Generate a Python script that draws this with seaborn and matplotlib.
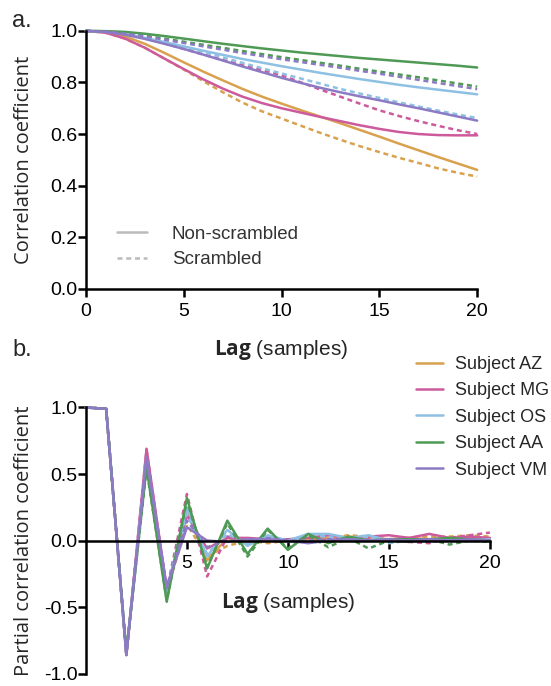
import numpy as np
import pandas as pd
import seaborn as sns
import matplotlib.pyplot as plt
from matplotlib.lines import Line2D

sns.set_style('ticks')
plt.rcParams['font.family'] = ['Liberation Sans', 'DejaVu Sans']
plt.rcParams['axes.unicode_minus'] = False
plt.rcParams['mathtext.fontset'] = 'custom'
plt.rcParams['mathtext.rm'] = 'Open Sans'
plt.rcParams['mathtext.bf'] = 'Open Sans:bold'

lags = list(range(21))
subjects = ['Subject AZ', 'Subject MG', 'Subject OS', 'Subject AA', 'Subject VM']
colors = ['#D9A14E', '#CC5A9C', '#8EC0E4', '#4E9A55', '#8C7BC4']
kinds = ['Non-scrambled', 'Scrambled']

# panel a: autocorrelation (solid = non-scrambled, dashed = scrambled)
acf_az = [1.0, 0.995, 0.978, 0.950, 0.915, 0.878, 0.842, 0.808, 0.775, 0.745, 0.718,
          0.692, 0.667, 0.642, 0.616, 0.590, 0.563, 0.537, 0.511, 0.486, 0.461]
acf_az_s = [1.0, 0.993, 0.970, 0.935, 0.893, 0.850, 0.805, 0.762, 0.722, 0.688, 0.660,
            0.632, 0.604, 0.578, 0.553, 0.530, 0.508, 0.488, 0.467, 0.450, 0.435]
acf_mg = [1.0, 0.993, 0.970, 0.935, 0.893, 0.852, 0.812, 0.776, 0.745, 0.720, 0.700,
          0.683, 0.666, 0.650, 0.634, 0.620, 0.608, 0.600, 0.596, 0.595, 0.595]
acf_mg_s = [1.0, 0.996, 0.988, 0.972, 0.952, 0.930, 0.908, 0.887, 0.867, 0.848, 0.828,
            0.800, 0.772, 0.745, 0.718, 0.692, 0.670, 0.650, 0.632, 0.615, 0.600]
acf_os = [1.0, 0.997, 0.988, 0.973, 0.957, 0.940, 0.923, 0.907, 0.891, 0.877, 0.863,
          0.850, 0.837, 0.825, 0.813, 0.802, 0.791, 0.781, 0.772, 0.763, 0.754]
acf_os_s = [1.0, 0.997, 0.988, 0.974, 0.957, 0.938, 0.918, 0.897, 0.876, 0.855, 0.835,
            0.815, 0.795, 0.775, 0.757, 0.740, 0.723, 0.707, 0.691, 0.676, 0.662]
acf_aa = [1.0, 0.999, 0.996, 0.989, 0.980, 0.970, 0.960, 0.950, 0.941, 0.932, 0.924,
          0.916, 0.909, 0.902, 0.895, 0.889, 0.883, 0.877, 0.871, 0.865, 0.858]
acf_aa_s = [1.0, 0.998, 0.992, 0.982, 0.970, 0.958, 0.946, 0.934, 0.922, 0.910, 0.898,
            0.887, 0.876, 0.865, 0.853, 0.842, 0.831, 0.820, 0.808, 0.796, 0.784]
acf_vm = [1.0, 0.996, 0.985, 0.969, 0.950, 0.930, 0.908, 0.885, 0.862, 0.840, 0.818,
          0.798, 0.779, 0.762, 0.746, 0.731, 0.715, 0.700, 0.684, 0.668, 0.652]
acf_vm_s = [1.0, 0.997, 0.990, 0.979, 0.966, 0.953, 0.940, 0.927, 0.914, 0.902, 0.890,
            0.879, 0.868, 0.857, 0.845, 0.834, 0.822, 0.810, 0.798, 0.786, 0.774]

# panel b: partial autocorrelation
pacf_az = [1.0, 0.99, -0.85, 0.62, -0.38, 0.22, -0.15, 0.02, -0.02, 0.0, 0.01,
           0.01, 0.02, 0.03, 0.02, 0.01, 0.02, 0.01, 0.02, 0.02, 0.01]
pacf_az_s = [1.0, 0.99, -0.85, 0.60, -0.38, 0.12, -0.12, -0.04, 0.0, -0.02, 0.0,
             0.01, 0.02, 0.04, 0.03, 0.01, 0.02, 0.03, 0.03, 0.04, 0.03]
pacf_mg = [1.0, 0.99, -0.86, 0.69, -0.36, 0.19, -0.06, 0.02, 0.02, 0.01, 0.01,
           0.02, 0.04, 0.02, 0.03, 0.04, 0.02, 0.05, 0.02, 0.03, 0.02]
pacf_mg_s = [1.0, 0.99, -0.86, 0.68, -0.37, 0.35, -0.27, 0.03, 0.01, 0.0, 0.01,
             -0.01, 0.01, 0.02, 0.01, 0.0, -0.01, -0.02, 0.02, 0.04, 0.06]
pacf_os = [1.0, 0.99, -0.85, 0.62, -0.38, 0.25, -0.12, 0.08, -0.04, 0.04, 0.0,
           0.05, 0.05, 0.02, 0.04, 0.0, 0.01, 0.0, 0.01, 0.0, 0.01]
pacf_os_s = [1.0, 0.99, -0.85, 0.60, -0.40, 0.20, -0.10, 0.05, -0.03, 0.03, -0.01,
             0.04, 0.03, 0.0, 0.03, -0.02, 0.0, 0.01, 0.0, 0.01, 0.0]
pacf_aa = [1.0, 0.99, -0.84, 0.55, -0.46, 0.32, -0.21, 0.15, -0.10, 0.09, -0.07,
           0.05, -0.02, 0.03, 0.0, 0.01, 0.01, 0.01, 0.02, 0.01, 0.0]
pacf_aa_s = [1.0, 0.99, -0.84, 0.54, -0.45, 0.30, -0.20, 0.13, -0.12, 0.08, -0.06,
             0.04, -0.05, 0.02, -0.06, 0.0, -0.01, 0.01, -0.03, 0.0, -0.01]
pacf_vm = [1.0, 0.99, -0.86, 0.63, -0.35, 0.10, 0.0, -0.01, 0.01, 0.01, 0.0,
           -0.02, 0.0, 0.01, 0.0, 0.01, 0.0, 0.01, 0.0, 0.01, 0.0]
pacf_vm_s = [1.0, 0.99, -0.86, 0.62, -0.36, 0.15, -0.05, 0.0, 0.0, 0.02, 0.0,
             0.0, 0.01, 0.01, 0.0, 0.0, 0.0, 0.01, 0.0, 0.0, 0.0]

acf = {'Subject AZ': (acf_az, acf_az_s), 'Subject MG': (acf_mg, acf_mg_s),
       'Subject OS': (acf_os, acf_os_s), 'Subject AA': (acf_aa, acf_aa_s),
       'Subject VM': (acf_vm, acf_vm_s)}
pacf = {'Subject AZ': (pacf_az, pacf_az_s), 'Subject MG': (pacf_mg, pacf_mg_s),
        'Subject OS': (pacf_os, pacf_os_s), 'Subject AA': (pacf_aa, pacf_aa_s),
        'Subject VM': (pacf_vm, pacf_vm_s)}


def to_long(d):
    rows = []
    for subj, (solid, scr) in d.items():
        for kind, vals in zip(kinds, (solid, scr)):
            for l, v in zip(lags, vals):
                rows.append({'lag': l, 'value': v, 'subject': subj, 'kind': kind})
    return pd.DataFrame(rows)


df_a = to_long(acf)
df_b = to_long(pacf)

palette = dict(zip(subjects, colors))
dash_map = {'Non-scrambled': '', 'Scrambled': (2, 1.5)}
tick_fs = 14
label_fs = 14.5

fig = plt.figure(figsize=(5.51, 6.86), dpi=100)
ax_a = fig.add_axes([0.156, 0.579, 0.710, 0.376])
ax_b = fig.add_axes([0.156, 0.018, 0.733, 0.388])

for ax, df in ((ax_a, df_a), (ax_b, df_b)):
    sns.lineplot(data=df, x='lag', y='value', hue='subject', style='kind',
                 hue_order=subjects, style_order=kinds, palette=palette,
                 dashes=dash_map, legend=False, errorbar=None, sort=False,
                 linewidth=1.8, clip_on=False, ax=ax)

# panel a
ax_a.set_xlim(0, 20)
ax_a.set_ylim(0, 1.0)
ax_a.set_xticks([0, 5, 10, 15, 20])
ax_a.set_yticks([0.0, 0.2, 0.4, 0.6, 0.8, 1.0])
ax_a.set_yticklabels(['0.0', '0.2', '0.4', '0.6', '0.8', '1.0'])
ax_a.set_ylabel('Correlation coefficient', family='Open Sans', fontsize=label_fs)
ax_a.set_xlabel(r'$\bf{Lag}$ (samples)', fontsize=15)
ax_a.xaxis.set_label_coords(0.5, -0.19)
ax_a.yaxis.set_label_coords(-0.133, 0.5)

grey = '#BBBBBB'
leg_a = ax_a.legend(handles=[Line2D([], [], color=grey, lw=1.8),
                             Line2D([], [], color=grey, lw=1.8, dashes=(2, 1.5))],
                    labels=kinds, loc='upper left', bbox_to_anchor=(0.079, 0.245),
                    frameon=False, fontsize=13.5, handlelength=1.6, handletextpad=1.33,
                    labelspacing=0.45, borderpad=0, borderaxespad=0)
for t in leg_a.get_texts():
    t.set_color('#333333')

# panel b
ax_b.set_xlim(0, 20)
ax_b.set_ylim(-1.0, 1.0)
ax_b.set_xticks([5, 10, 15, 20])
ax_b.set_yticks([-1.0, -0.5, 0.0, 0.5, 1.0])
ax_b.set_yticklabels(['-1.0', '-0.5', '0.0', '0.5', '1.0'])
ax_b.spines['bottom'].set_position(('data', 0))
ax_b.set_ylabel('Partial correlation coefficient', family='Open Sans', fontsize=label_fs)
ax_b.set_xlabel(r'$\bf{Lag}$ (samples)', fontsize=15)
ax_b.xaxis.set_label_coords(0.5, 0.31)
ax_b.yaxis.set_label_coords(-0.129, 0.5)

leg_b = fig.legend(handles=[Line2D([], [], color=c, lw=1.8) for c in colors],
                   labels=subjects, loc='upper left', bbox_to_anchor=(0.755, 0.481),
                   frameon=False, fontsize=13, handlelength=1.5, handletextpad=0.65,
                   labelspacing=0.52, borderpad=0, borderaxespad=0)

for ax in (ax_a, ax_b):
    sns.despine(ax=ax)
    for s in ('left', 'bottom'):
        ax.spines[s].set_linewidth(1.8)
        ax.spines[s].set_color('black')
    ax.tick_params(width=1.8, length=5.5, labelsize=tick_fs, colors='black')
    ax.tick_params(axis='x', pad=5)
    ax.tick_params(axis='y', pad=0.5)

fig.text(0.022, 0.97, 'a.', fontsize=17, va='center', ha='left')
fig.text(0.022, 0.49, 'b.', fontsize=17, va='center', ha='left')

fig.savefig('out.png', dpi=100)
